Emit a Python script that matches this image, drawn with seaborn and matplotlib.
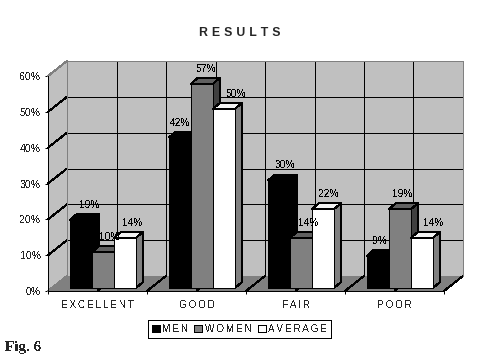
import pandas as pd
import matplotlib
matplotlib.use('Agg')
import matplotlib.pyplot as plt
import seaborn as sns
from matplotlib.patches import Polygon
from matplotlib.lines import Line2D
from matplotlib.transforms import IdentityTransform, offset_copy

categories = ['EXCELLENT', 'GOOD', 'FAIR', 'POOR']
groups = ['MEN', 'WOMEN', 'AVERAGE']
men = [19, 42, 30, 9]
women = [10, 57, 14, 22]
average = [14, 50, 22, 14]
# the printed label on the last women bar does not agree with its height
men_labels = ['19%', '42%', '30%', '9%']
women_labels = ['10%', '57%', '14%', '19%']
average_labels = ['14%', '50%', '22%', '14%']
y_ticks = [0, 10, 20, 30, 40, 50, 60]

HAIR = '\u200a'


def spaced(s, n=2):
    return (HAIR * n).join(s)


sns.set_style('white')
plt.rcParams['font.family'] = ['Liberation Sans', 'DejaVu Sans']
plt.rcParams['text.antialiased'] = False
plt.rcParams['lines.antialiased'] = False
plt.rcParams['patch.antialiased'] = False

df = pd.DataFrame({
    'rating': categories * 3,
    'group': [g for g in groups for _ in categories],
    'pct': men + women + average,
})

fig = plt.figure(figsize=(4.8, 3.6), dpi=100)
ax = fig.add_axes([48 / 480, (360 - 291) / 360, 396 / 480, 215 / 360])
ax.patch.set_alpha(0)

sns.barplot(data=df, x='rating', y='pct', hue='group', order=categories, hue_order=groups,
            palette=['black', '#808080', 'white'], width=0.667, gap=0, edgecolor='black',
            linewidth=0.72, saturation=1, ax=ax, legend=False)

ax.set_xlim(-0.5, 3.5)
ax.set_ylim(0, 60)
ax.set_xlabel('')
ax.set_ylabel('')
ax.set_yticks(y_ticks)
ax.set_yticklabels([f'{v}%' for v in y_ticks], fontsize=7.6)
ax.set_xticks(range(4))
ax.set_xticklabels([spaced(c) for c in categories], fontsize=7.2)
ax.set_xticks([-0.5, 0.5, 1.5, 2.5, 3.5], minor=True)
ax.tick_params(axis='x', which='major', length=0, pad=6.5)
ax.tick_params(axis='x', which='minor', length=2.2, width=0.72, color='black', bottom=True)
ax.tick_params(axis='y', length=2.2, width=0.72, color='black', pad=3, left=True)
sns.despine(ax=ax)
for s in ['left', 'bottom']:
    ax.spines[s].set_color('black')
    ax.spines[s].set_linewidth(0.72)
    ax.spines[s].set_zorder(6)

pixel = IdentityTransform()
DEPTH = (19, 15)


def px(x, y, back=False):
    a, b = ax.transData.transform((x, y))
    return (a + DEPTH[0], b + DEPTH[1]) if back else (a, b)


def poly(points, face, edge='none', z=1):
    ax.add_patch(Polygon(points, closed=True, facecolor=face, edgecolor=edge, linewidth=0.72,
                         transform=pixel, clip_on=False, zorder=z))


def line(p, q, color='black', z=1.5):
    ax.add_line(Line2D([p[0], q[0]], [p[1], q[1]], color=color, linewidth=0.72,
                       transform=pixel, clip_on=False, zorder=z))


# walls and floor
poly([px(-0.5, 0, True), px(3.5, 0, True), px(3.5, 60, True), px(-0.5, 60, True)], '#c0c0c0')
poly([px(-0.5, 0), px(-0.5, 0, True), px(-0.5, 60, True), px(-0.5, 60)], '#c0c0c0')
poly([px(-0.5, 0), px(3.5, 0), px(3.5, 0, True), px(-0.5, 0, True)], '#808080')

# grid
for v in y_ticks[1:-1]:
    line(px(-0.5, v, True), px(3.5, v, True))
    line(px(-0.5, v), px(-0.5, v, True))
for i in range(1, 8):
    x = -0.5 + i / 2
    line(px(x, 0, True), px(x, 60, True))
    line(px(x, 0), px(x, 0, True))
line(px(3.5, 0), px(3.5, 0, True))
line(px(-0.5, 0), px(-0.5, 0, True), '#808080')
line(px(-0.5, 60), px(-0.5, 60, True), '#808080')
line(px(-0.5, 60, True), px(3.5, 60, True), '#808080')
line(px(3.5, 60, True), px(3.5, 0, True), '#808080')
line(px(-0.5, 60, True), px(-0.5, 0, True), '#808080')

# bars pushed into the box, with their top and side faces
bar_trans = offset_copy(ax.transData, fig, x=5.5, y=3, units='dots')
BAR_DEPTH = (7, 6)
top_colors = ['black', '#606060', '#f4f4f4']
side_colors = ['black', '#404040', '#808080']
all_labels = [men_labels, women_labels, average_labels]
label_nudge = [[9, 0, 6, 2], [7, 4, 7, 3], [7, 12, 6, 11]]

z = 3
for c in range(4):
    for g, container in enumerate(ax.containers):
        bar = container[c]
        bar.set_transform(bar_trans)
        bar.set_clip_on(False)
        bar.set_zorder(z + 0.2)
        x0, y0 = bar_trans.transform((bar.get_x(), 0))
        x1, y1 = bar_trans.transform((bar.get_x() + bar.get_width(), bar.get_height()))
        dx, dy = BAR_DEPTH
        edge = 'black'
        poly([(x1, y0), (x1 + dx, y0 + dy), (x1 + dx, y1 + dy), (x1, y1)], side_colors[g], edge, z)
        poly([(x0, y1), (x1, y1), (x1 + dx, y1 + dy), (x0 + dx, y1 + dy)], top_colors[g], edge, z + 0.1)
        ax.text((x0 + x1) / 2 + label_nudge[g][c], y1 + 15, all_labels[g][c], transform=pixel,
                ha='center', va='center', fontsize=7.4, color='black', zorder=20)
        z += 1

handles = [plt.Rectangle((0, 0), 1, 1, facecolor=col, edgecolor='black', linewidth=0.72)
           for col in ['black', '#808080', 'white']]
fig.legend(handles, [spaced(g, 2) for g in groups], loc='center', ncol=3,
           bbox_to_anchor=(239.5 / 480, (360 - 329) / 360), fontsize=7.2, frameon=True, fancybox=False,
           edgecolor='black', framealpha=1, handlelength=0.8, handleheight=0.8, handletextpad=0.25,
           columnspacing=0.6, borderpad=0.42, borderaxespad=0)
fig.legends[0].get_frame().set_linewidth(0.72)

title = fig.text(240 / 480, (360 - 33) / 360, spaced('RESULTS', 4), ha='center', va='center', fontsize=8.8,
                 fontweight='bold')
title.set_antialiased(True)
fig.text(5 / 480, (360 - 348) / 360, 'Fig. 6', ha='left', va='center', fontsize=11, fontweight='bold',
         family=['Liberation Serif', 'DejaVu Serif'])

fig.savefig('out.png', dpi=100)
